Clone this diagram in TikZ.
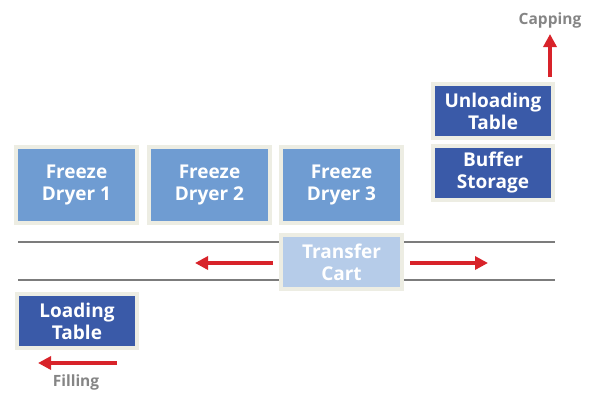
\documentclass[tikz,border=0pt]{standalone}
\usepackage{fontspec}
\setmainfont{Open Sans}
\usetikzlibrary{arrows.meta}
\definecolor{edgebeige}{HTML}{EDEDE3}
\definecolor{dryerblue}{HTML}{6F9CD2}
\definecolor{tableblue}{HTML}{3A5AA8}
\definecolor{cartblue}{HTML}{B6CCE9}
\definecolor{railgray}{HTML}{7C7C7C}
\definecolor{flowred}{HTML}{D8232A}
\definecolor{labelgray}{HTML}{858585}

\begin{document}
\begin{tikzpicture}[x=1pt, y=-1pt]
  \tikzset{
    unit/.style={draw=edgebeige, line width=4pt, text=white, align=center,
      font=\bfseries\fontsize{19}{22}\selectfont, inner sep=0pt},
    dryer/.style={unit, fill=dryerblue, minimum width=121pt, minimum height=76pt},
    tablebox/.style={unit, fill=tableblue, minimum width=120pt, minimum height=54pt},
    cart/.style={unit, fill=cartblue, minimum width=121pt, minimum height=54pt},
    rail/.style={draw=railgray, line width=2pt},
    flow/.style={draw=flowred, line width=4pt, -{Triangle[length=13pt,width=13pt]}},
    tag/.style={text=labelgray, font=\bfseries\fontsize{15.5}{17}\selectfont, inner sep=0pt}
  }
  \useasboundingbox (0,0) rectangle (589,392);
  \coordinate (rail-1-a) at (18,242);
  \coordinate (rail-1-b) at (555,242);
  \coordinate (rail-2-a) at (18,280);
  \coordinate (rail-2-b) at (555,280);
  \draw[rail] (rail-1-a) -- (rail-1-b);
  \draw[rail] (rail-2-a) -- (rail-2-b);
  \node[dryer] (FD-1) at (76.5,185) {Freeze\\Dryer 1};
  \node[dryer] (FD-2) at (209.5,185) {Freeze\\Dryer 2};
  \node[dryer] (FD-3) at (341.5,185) {Freeze\\Dryer 3};
  \node[cart] (cart) at (341.5,262) {Transfer\\Cart};
  \node[tablebox] (unload) at (493,111) {Unloading\\Table};
  \node[tablebox] (buffer) at (493,172.5) {Buffer\\Storage};
  \node[tablebox] (load) at (77,321) {Loading\\Table};
  \node[tag] (capping) at (550,20) {Capping};
  \node[tag] (filling) at (76,382) {Filling};
  \coordinate (cart-left) at (273,263);
  \coordinate (cart-left-end) at (195,263);
  \coordinate (cart-right) at (410,263);
  \coordinate (cart-right-end) at (488,263);
  \coordinate (unload-out) at (550,77);
  \coordinate (capping-in) at (550,34);
  \coordinate (load-out) at (117,363);
  \coordinate (load-out-end) at (38,363);
  \draw[flow] (cart-left) -- (cart-left-end);
  \draw[flow] (cart-right) -- (cart-right-end);
  \draw[flow] (unload-out) -- (capping-in);
  \draw[flow] (load-out) -- (load-out-end);
\end{tikzpicture}
\end{document}
